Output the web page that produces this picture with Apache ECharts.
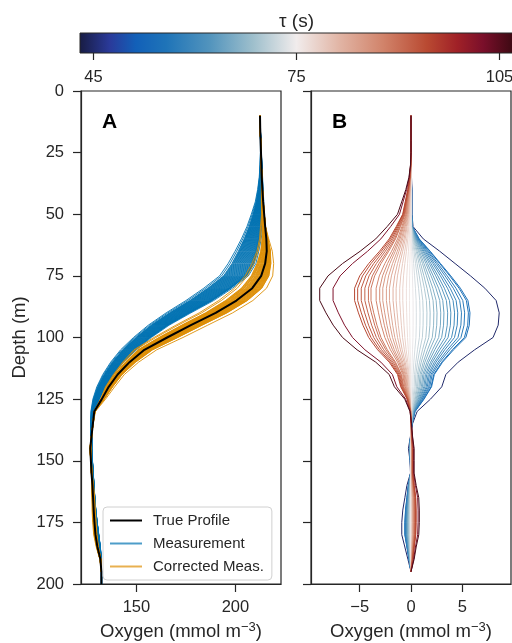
<!DOCTYPE html>
<html>
<head>
<meta charset="utf-8">
<script src="https://cdn.jsdelivr.net/npm/echarts@6/dist/echarts.min.js"></script>
<style>
html, body { margin: 0; padding: 0; background: #fff; }
#chart { width: 512px; height: 643px; }
</style>
</head>
<body>
<div id="chart"></div>
<script>
// depth grid (m) shared by all profiles
var depth = [10,15,20,25,30,35,40,45,50,55,60,65,70,75,80,85,90,95,100,105,110,115,120,125,130,135,140,145,150,155,160,165,170,175,180,185,190,195,200];
// true oxygen profile (mmol m-3)
var trueOxygen = [212.4,212.5,212.7,212.9,213.1,213.3,213.6,214.0,214.5,215.0,215.6,215.8,215.0,213.0,208.5,200.5,190.0,177.5,165.5,154.0,146.5,140.5,136.0,132.5,128.7,128.0,127.3,126.7,127.0,127.3,127.8,128.1,128.4,128.8,129.3,130.3,131.8,132.3,132.3];
// edges of the measurement band: most lagged / least lagged line
var measMostLag = [212.4,212.5,212.6,212.6,212.4,212.0,211.2,210.0,208.0,205.8,203.0,199.8,196.3,192.0,184.0,175.0,165.0,156.0,148.5,142.0,137.0,133.0,130.0,128.0,127.0,126.8,126.8,127.0,127.4,127.8,128.2,128.6,129.0,129.5,130.2,131.0,131.8,132.3,132.3];
var measLeastLag = [212.4,212.6,212.8,213.1,213.4,213.7,214.0,214.3,214.3,213.8,213.0,211.8,210.3,206.5,198.5,189.0,177.5,166.5,157.5,150.0,143.5,138.5,134.5,131.3,129.0,128.0,127.5,127.5,127.8,128.2,128.6,129.0,129.5,130.2,131.0,131.8,132.3,132.4,132.4];
// corrected - true for the two extreme lines (tau 45 and tau 106), depth 10..195
var diffTau45 = [0,0,0,0,0,0.05,0.1,0.1,0.1,0.2,1.2,2.8,4.3,5.8,7.2,8.3,8.6,8.5,8.0,6.2,4.6,3.4,3.0,1.9,0.6,0.15,-0.05,-0.25,-0.1,-0.05,-0.4,-0.6,-0.8,-0.9,-0.9,-0.6,-0.3,0];
var diffTau106 = [0,0,0,0,-0.05,-0.2,-0.5,-0.9,-1.3,-2.3,-3.4,-4.9,-6.6,-8.0,-8.8,-8.8,-8.2,-7.5,-6.6,-5.2,-3.4,-2.1,-1.6,-0.6,-0.1,0.05,0.15,0.3,0.3,0.3,0.5,0.75,0.8,0.8,0.75,0.5,0.3,0];
// one entry per profile line
var tauValues = [106,102,94.5,93.5,92.5,91.5,90,89,87.5,86.5,85,84,83,82,80.5,79,78,76.5,75.5,74.5,73,72,71,70,68.5,67.5,66.5,65.5,64,63,62,60.5,59,58,57,55.5,55,45];
var peakDiff = [-8.9,-7.6,-5.5,-5.2,-4.85,-4.5,-4.15,-3.9,-3.4,-3.05,-2.75,-2.4,-2.1,-1.75,-1.45,-1.1,-0.8,-0.45,-0.15,0.2,0.5,0.85,1.15,1.5,1.8,2.15,2.45,2.8,3.1,3.45,3.75,4.1,4.4,4.75,5.05,5.4,5.55,8.3];
var measPos = [1.0,0.93,0.86,0.835,0.81,0.785,0.76,0.735,0.71,0.685,0.66,0.635,0.61,0.585,0.56,0.535,0.51,0.485,0.46,0.435,0.41,0.385,0.36,0.335,0.31,0.285,0.26,0.235,0.21,0.185,0.16,0.14,0.12,0.10,0.085,0.07,0.06,0.0];
var tauTicks = [45, 75, 105];
var oxygenTicks = [150, 200];
var diffTicks = [-5, 0, 5];

var tauMin = 43, tauMax = 107;
var axisColor = '#262626';
var fontFam = '"Liberation Sans", Arial, sans-serif';

// cmocean balance (approx)
var balance = [
  [0.00, '#181c43'], [0.07, '#2a3a9a'], [0.13, '#1260b8'], [0.20, '#1f74b8'],
  [0.30, '#5294bd'], [0.40, '#9ebfcc'], [0.50, '#f1ecec'], [0.60, '#e1b4a4'],
  [0.70, '#d1836a'], [0.80, '#b94a32'], [0.87, '#a02127'], [0.93, '#7a0f2a'],
  [1.00, '#3c0912']
];
function hex2rgb(h) {
  return [parseInt(h.substr(1,2),16), parseInt(h.substr(3,2),16), parseInt(h.substr(5,2),16)];
}
function cmap(t) {
  t = Math.max(0, Math.min(1, t));
  for (var i = 1; i < balance.length; i++) {
    if (t <= balance[i][0]) {
      var a = balance[i-1], b = balance[i];
      var f = (t - a[0]) / (b[0] - a[0]);
      var ca = hex2rgb(a[1]), cb = hex2rgb(b[1]);
      return 'rgb(' + Math.round(ca[0]+(cb[0]-ca[0])*f) + ',' + Math.round(ca[1]+(cb[1]-ca[1])*f) + ',' + Math.round(ca[2]+(cb[2]-ca[2])*f) + ')';
    }
  }
  return balance[balance.length-1][1];
}

var series = [];
var nLines = tauValues.length;
var iRef = depth.indexOf(85);

// diff profile of each line
function lineDiff(i) {
  var base = peakDiff[i] >= 0 ? diffTau45 : diffTau106;
  var s = peakDiff[i] / base[iRef];
  return base.map(function (v) { return v * s; });
}

// panel A: measurements
for (var i = 0; i < nLines; i++) {
  var pts = [];
  for (var j = 0; j < depth.length; j++) {
    pts.push([measLeastLag[j] + measPos[i] * (measMostLag[j] - measLeastLag[j]), depth[j]]);
  }
  series.push({
    name: 'Measurement', type: 'line', xAxisIndex: 2, yAxisIndex: 1,
    data: pts, symbol: 'none', silent: true,
    lineStyle: { color: '#0173b2', width: 0.9 }, itemStyle: { color: '#0173b2' }
  });
}
// panel A: corrected measurements
for (var i = 0; i < nLines; i++) {
  var d = lineDiff(i);
  var pts = [];
  for (var j = 0; j < d.length; j++) pts.push([trueOxygen[j] + d[j], depth[j]]);
  series.push({
    name: 'Corrected Meas.', type: 'line', xAxisIndex: 2, yAxisIndex: 1,
    data: pts, symbol: 'none', silent: true,
    lineStyle: { color: '#de8f05', width: 0.9 }, itemStyle: { color: '#de8f05' }
  });
}
// true profile
series.push({
  name: 'True Profile', type: 'line', xAxisIndex: 2, yAxisIndex: 1,
  data: trueOxygen.map(function (v, j) { return [v, depth[j]]; }),
  symbol: 'none', silent: true,
  lineStyle: { color: '#000', width: 2 }, itemStyle: { color: '#000' }
});
// panel B: differences coloured by tau
for (var i = nLines - 1; i >= 0; i--) {
  var d = lineDiff(i);
  var c = cmap((tauValues[i] - tauMin) / (tauMax - tauMin));
  series.push({
    type: 'line', xAxisIndex: 3, yAxisIndex: 2,
    data: d.map(function (v, j) { return [v, depth[j]]; }),
    symbol: 'none', silent: true,
    lineStyle: { color: c, width: 1 }
  });
}
// colorbar
series.push({
  type: 'custom', xAxisIndex: 0, yAxisIndex: 0, silent: true,
  data: [[tauMin, tauMax]],
  renderItem: function (params, api) {
    var p0 = api.coord([api.value(0), 1]);
    var p1 = api.coord([api.value(1), 0]);
    var stops = balance.map(function (b) { return { offset: b[0], color: b[1] }; });
    return {
      type: 'rect',
      shape: { x: p0[0], y: p0[1], width: p1[0] - p0[0], height: p1[1] - p0[1] },
      style: { fill: new echarts.graphic.LinearGradient(0, 0, 1, 0, stops), stroke: axisColor, lineWidth: 1 }
    };
  }
});

function minusFmt(v) { return v < 0 ? '\u2212' + Math.abs(v) : String(v); }

var tickStyle = { length: 8, lineStyle: { color: axisColor, width: 1.2 } };
var lineStyleAx = { show: true, onZero: false, lineStyle: { color: axisColor, width: 1.2 } };
var oxName = '{a|Oxygen (mmol m}{s|\u22123}{a|)}';
var oxRich = { a: { fontSize: 18.5, color: axisColor }, s: { fontSize: 13, color: axisColor, padding: [0, 0, 9, 0] } };

var option = {
  animation: false,
  textStyle: { fontFamily: fontFam },
  title: [
    { text: 'A', left: 102, top: 112, padding: 0, textStyle: { fontSize: 21, fontWeight: 'bold', color: '#000', fontFamily: fontFam } },
    { text: 'B', left: 332, top: 112, padding: 0, textStyle: { fontSize: 21, fontWeight: 'bold', color: '#000', fontFamily: fontFam } }
  ],
  legend: {
    left: 103, top: 507, orient: 'vertical',
    itemWidth: 32, itemHeight: 14, itemGap: 8,
    padding: [6, 8, 6, 6],
    backgroundColor: 'rgba(255,255,255,0.85)',
    borderColor: '#d0d0d0', borderWidth: 1, borderRadius: 4,
    itemStyle: { opacity: 0 },
    textStyle: { fontSize: 15, color: axisColor, padding: [0, 0, 0, 6] },
    data: [
      { name: 'True Profile', lineStyle: { width: 2 } },
      { name: 'Measurement', lineStyle: { width: 2, opacity: 0.7 } },
      { name: 'Corrected Meas.', lineStyle: { width: 2, opacity: 0.7 } }
    ]
  },
  grid: [
    { left: 80, top: 33, width: 433, height: 20, outerBoundsMode: 'none' },
    { left: 81, top: 91, width: 200, height: 493, show: true, borderColor: axisColor, borderWidth: 1.2, outerBoundsMode: 'none' },
    { left: 311, top: 91, width: 200, height: 493, show: true, borderColor: axisColor, borderWidth: 1.2, outerBoundsMode: 'none' }
  ],
  xAxis: [
    { gridIndex: 0, type: 'value', min: tauMin, max: tauMax, position: 'bottom',
      axisLine: { show: false, onZero: false }, splitLine: { show: false },
      axisTick: { customValues: tauTicks, length: 7, lineStyle: { color: axisColor, width: 1.2 } },
      axisLabel: { customValues: tauTicks, fontSize: 16.5, color: axisColor, margin: 16 } },
    { gridIndex: 0, type: 'value', min: tauMin, max: tauMax, position: 'top',
      axisLine: { show: false, onZero: false }, axisTick: { show: false }, axisLabel: { show: false }, splitLine: { show: false },
      name: '\u03c4 (s)', nameLocation: 'middle', nameGap: 2, nameTextStyle: { fontSize: 19, color: axisColor } },
    { gridIndex: 1, type: 'value', min: 122, max: 223,
      axisLine: lineStyleAx, splitLine: { show: false },
      axisTick: { customValues: oxygenTicks, length: 8, lineStyle: { color: axisColor, width: 1.2 } },
      axisLabel: { customValues: oxygenTicks, fontSize: 16.5, color: axisColor, margin: 15 },
      name: oxName, nameLocation: 'middle', nameGap: 37, nameTextStyle: { rich: oxRich } },
    { gridIndex: 2, type: 'value', min: -9.75, max: 9.75,
      axisLine: lineStyleAx, splitLine: { show: false },
      axisTick: { customValues: diffTicks, length: 8, lineStyle: { color: axisColor, width: 1.2 } },
      axisLabel: { customValues: diffTicks, fontSize: 16.5, color: axisColor, margin: 15, formatter: minusFmt },
      name: oxName, nameLocation: 'middle', nameGap: 37, nameTextStyle: { rich: oxRich } }
  ],
  yAxis: [
    { gridIndex: 0, type: 'value', min: 0, max: 1, show: false },
    { gridIndex: 1, type: 'value', inverse: true, min: 0, max: 200, interval: 25,
      axisLine: lineStyleAx, splitLine: { show: false }, axisTick: tickStyle,
      axisLabel: { fontSize: 16.5, color: axisColor, margin: 17 },
      name: 'Depth (m)', nameLocation: 'middle', nameGap: 52, nameRotate: 90,
      nameTextStyle: { fontSize: 18.5, color: axisColor } },
    { gridIndex: 2, type: 'value', inverse: true, min: 0, max: 200, interval: 25,
      axisLine: lineStyleAx, splitLine: { show: false }, axisTick: tickStyle,
      axisLabel: { show: false } }
  ],
  series: series
};

var myChart = echarts.init(document.getElementById('chart'));
myChart.setOption(option);
</script>
</body>
</html>
